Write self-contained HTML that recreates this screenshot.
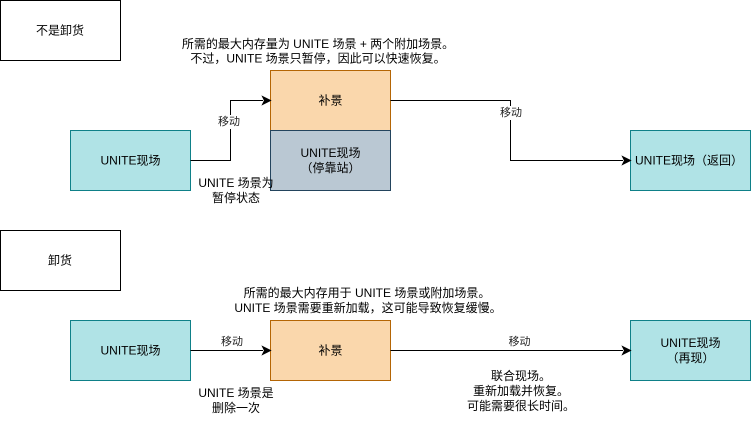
<!DOCTYPE html>
<html>
<head>
<meta charset="utf-8">
<style>
  html, body { margin: 0; padding: 0; background: #ffffff; }
  body { width: 751px; height: 421px; overflow: hidden; }
  svg { display: block; }
  text { font-family: "Liberation Sans", "Noto Sans CJK SC", sans-serif; font-size: 12px; fill: #000; }
  .lbl { font-size: 11px; fill: #222; }
</style>
</head>
<body>
<svg width="751" height="421" viewBox="0 0 751 421" xmlns="http://www.w3.org/2000/svg">
  <!-- ===== Top section ===== -->
  <rect x="0.5" y="0.5" width="120" height="60" fill="#fff" stroke="#000" stroke-width="1"/>
  <text x="60" y="30.5" text-anchor="middle" dominant-baseline="central">不是卸货</text>

  <text x="318" y="44" text-anchor="middle" dominant-baseline="central">所需的最大内存量为 UNITE 场景 + 两个附加场景。</text>
  <text x="318" y="58.5" text-anchor="middle" dominant-baseline="central">不过，UNITE 场景只暂停，因此可以快速恢复。</text>

  <!-- left UNITE box -->
  <rect x="70.5" y="130.5" width="120" height="60" fill="#b0e3e6" stroke="#0e8088" stroke-width="1"/>
  <text x="130.5" y="160.5" text-anchor="middle" dominant-baseline="central">UNITE现场</text>

  <!-- 补景 + docked -->
  <rect x="270.5" y="70.5" width="120" height="60" fill="#fad7ac" stroke="#b46504" stroke-width="1"/>
  <text x="330.5" y="100.5" text-anchor="middle" dominant-baseline="central">补景</text>
  <rect x="270.5" y="130.5" width="120" height="60" fill="#bac8d3" stroke="#23445d" stroke-width="1"/>
  <text x="330.5" y="153" text-anchor="middle" dominant-baseline="central">UNITE现场</text>
  <text x="330.5" y="168" text-anchor="middle" dominant-baseline="central">（停靠站）</text>

  <!-- right UNITE box -->
  <rect x="630.5" y="130.5" width="120" height="60" fill="#b0e3e6" stroke="#0e8088" stroke-width="1"/>
  <text x="689" y="160.5" text-anchor="middle" dominant-baseline="central">UNITE现场（返回）</text>

  <!-- connector left -> 补景 -->
  <polyline points="190.5,160.5 230.5,160.5 230.5,100.5 263,100.5" fill="none" stroke="#000" stroke-width="1"/>
  <path d="M270.5,100.5 L262.5,96.5 L264.5,100.5 L262.5,104.5 Z" fill="#000" stroke="#000" stroke-width="1"/>
  <rect x="217" y="115" width="24" height="14" fill="#fff"/>
  <text class="lbl" x="229" y="122" text-anchor="middle" dominant-baseline="central">移动</text>

  <text x="236" y="183" text-anchor="middle" dominant-baseline="central">UNITE 场景为</text>
  <text x="236" y="198" text-anchor="middle" dominant-baseline="central">暂停状态</text>

  <!-- connector 补景 -> right -->
  <polyline points="390.5,100.5 510.5,100.5 510.5,160.5 623,160.5" fill="none" stroke="#000" stroke-width="1"/>
  <path d="M630.5,160.5 L622.5,156.5 L624.5,160.5 L622.5,164.5 Z" fill="#000" stroke="#000" stroke-width="1"/>
  <rect x="499" y="106" width="24" height="14" fill="#fff"/>
  <text class="lbl" x="511" y="113" text-anchor="middle" dominant-baseline="central">移动</text>

  <!-- ===== Bottom section ===== -->
  <rect x="0.5" y="230.5" width="120" height="60" fill="#fff" stroke="#000" stroke-width="1"/>
  <text x="60" y="260.5" text-anchor="middle" dominant-baseline="central">卸货</text>

  <text x="367" y="293" text-anchor="middle" dominant-baseline="central">所需的最大内存用于 UNITE 场景或附加场景。</text>
  <text x="368" y="308" text-anchor="middle" dominant-baseline="central">UNITE 场景需要重新加载，这可能导致恢复缓慢。</text>

  <rect x="70.5" y="320.5" width="120" height="60" fill="#b0e3e6" stroke="#0e8088" stroke-width="1"/>
  <text x="130.5" y="350.5" text-anchor="middle" dominant-baseline="central">UNITE现场</text>

  <rect x="270.5" y="320.5" width="120" height="60" fill="#fad7ac" stroke="#b46504" stroke-width="1"/>
  <text x="330.5" y="350.5" text-anchor="middle" dominant-baseline="central">补景</text>

  <rect x="630.5" y="320.5" width="120" height="60" fill="#b0e3e6" stroke="#0e8088" stroke-width="1"/>
  <text x="690.5" y="343" text-anchor="middle" dominant-baseline="central">UNITE现场</text>
  <text x="690.5" y="358" text-anchor="middle" dominant-baseline="central">（再现）</text>

  <!-- connector left -> 补景 -->
  <line x1="190.5" y1="350.5" x2="263" y2="350.5" stroke="#000" stroke-width="1"/>
  <path d="M270.5,350.5 L262.5,346.5 L264.5,350.5 L262.5,354.5 Z" fill="#000" stroke="#000" stroke-width="1"/>
  <text class="lbl" x="232" y="342" text-anchor="middle" dominant-baseline="central">移动</text>

  <text x="236" y="393" text-anchor="middle" dominant-baseline="central">UNITE 场景是</text>
  <text x="236" y="408" text-anchor="middle" dominant-baseline="central">删除一次</text>

  <!-- connector 补景 -> right -->
  <line x1="390.5" y1="350.5" x2="623" y2="350.5" stroke="#000" stroke-width="1"/>
  <path d="M630.5,350.5 L622.5,346.5 L624.5,350.5 L622.5,354.5 Z" fill="#000" stroke="#000" stroke-width="1"/>
  <text class="lbl" x="519.5" y="342" text-anchor="middle" dominant-baseline="central">移动</text>

  <text x="521" y="376" text-anchor="middle" dominant-baseline="central">联合现场。</text>
  <text x="521" y="391" text-anchor="middle" dominant-baseline="central">重新加载并恢复。</text>
  <text x="521" y="406" text-anchor="middle" dominant-baseline="central">可能需要很长时间。</text>
</svg>
</body>
</html>
